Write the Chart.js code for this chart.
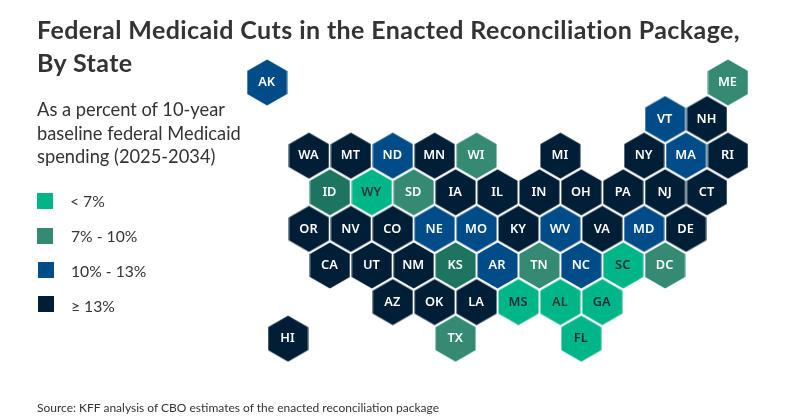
<!DOCTYPE html>
<html>
<head>
<meta charset="utf-8">
<title>Federal Medicaid Cuts by State</title>
<script src="https://cdn.jsdelivr.net/npm/chart.js@4"></script>
<style>
    html, body { margin: 0; padding: 0; background: #fff; }
    #wrap { position: relative; width: 800px; height: 419px; overflow: hidden; color: #333; font-family: Lato, sans-serif; }
    #wrap canvas { position: absolute; left: 0; top: 0; }
    #title { position: absolute; left: 37px; top: 13px; font-size: 25px; line-height: 33px; font-weight: 700; letter-spacing: 0.4px; white-space: nowrap; }
    #subtitle { position: absolute; left: 37px; top: 98px; font-size: 18.3px; line-height: 23.5px; white-space: nowrap; }
    #source { position: absolute; left: 37px; top: 400px; font-size: 12px; line-height: 16px; white-space: nowrap; }
    .key { position: absolute; width: 16px; height: 16px; }
    .keyText { position: absolute; font-size: 15.7px; line-height: 20px; white-space: nowrap; }
</style>
</head>
<body>
<div id="wrap">
    <canvas id="hexChart" width="800" height="419"></canvas>
    <div id="title">Federal Medicaid Cuts in the Enacted Reconciliation Package,<br>By State</div>
    <div id="subtitle">As a percent of 10-year<br>baseline federal Medicaid<br>spending (2025-2034)</div>
    <div id="legend"></div>
    <div id="source">Source: KFF analysis of CBO estimates of the enacted reconciliation package</div>
</div>
<script>
// states, grid position (half columns / rows) and the bucket each one falls in
var states = ['AK','ME','VT','NH','WA','MT','ND','MN','WI','MI','NY','MA','RI','ID','WY','SD','IA','IL','IN','OH','PA','NJ','CT','OR','NV','CO','NE','MO','KY','WV','VA','MD','DE','CA','UT','NM','KS','AR','TN','NC','SC','DC','AZ','OK','LA','MS','AL','GA','HI','TX','FL'];
var gridCols = [-2,20,17,19,0,2,4,6,8,12,16,18,20,1,3,5,7,9,11,13,15,17,19,0,2,4,6,8,10,12,14,16,18,1,3,5,7,9,11,13,15,17,4,6,8,10,12,14,-1,7,13];
var gridRows = [0,0,1,1,2,2,2,2,2,2,2,2,2,3,3,3,3,3,3,3,3,3,3,4,4,4,4,4,4,4,4,4,4,5,5,5,5,5,5,5,5,5,6,6,6,6,6,6,7,7,7];
var buckets = [2,1,2,3,3,3,2,3,1,3,3,2,3,4,0,1,3,3,3,3,3,3,3,3,3,3,2,2,3,2,3,2,3,3,3,3,4,2,1,2,0,1,3,3,3,0,0,0,3,1,0];

// 0 < 7%, 1 7-10%, 2 10-13%, 3 >= 13%, 4 is the darker green used on ID and KS
var bucketColors = ['#00b688', '#358a74', '#004c89', '#001e36', '#1d7560'];
var legendLabels = ['< 7%', '7% - 10%', '10% - 13%', '≥ 13%'];
var legendTop = [193, 227.5, 262, 296];
var legendLeft = [37, 37, 38, 38];
var legendTextTop = [190.5, 225.5, 260.5, 295.5];

var darkLabels = ['MS', 'GA', 'SC', 'FL'];
var greyLabels = ['WY', 'AL'];

function makeHex(color) {
    var w = 41, h = 47;
    var c = document.createElement('canvas');
    c.width = w;
    c.height = h;
    var g = c.getContext('2d');
    var cx = w / 2, cy = h / 2, r = 23.1;
    g.beginPath();
    for (var i = 0; i < 6; i++) {
        var a = Math.PI / 3 * i - Math.PI / 2;
        var px = cx + r * Math.cos(a);
        var py = cy + r * Math.sin(a);
        if (i === 0) g.moveTo(px, py); else g.lineTo(px, py);
    }
    g.closePath();
    g.fillStyle = color;
    g.fill();
    return c;
}

var hexes = bucketColors.map(makeHex);

// legend is plain html so it sits in the left column
var legendEl = document.getElementById('legend');
legendLabels.forEach(function (label, i) {
    var box = document.createElement('div');
    box.className = 'key';
    box.style.left = legendLeft[i] + 'px';
    box.style.top = legendTop[i] + 'px';
    box.style.background = bucketColors[i];
    legendEl.appendChild(box);
    var txt = document.createElement('div');
    txt.className = 'keyText';
    txt.style.left = (i === 0 ? 70 : 71) + 'px';
    txt.style.top = legendTextTop[i] + 'px';
    txt.textContent = label;
    legendEl.appendChild(txt);
});

var hexLabels = {
    id: 'hexLabels',
    afterDatasetsDraw: function (chart) {
        var ctx = chart.ctx;
        var xs = chart.scales.x, ys = chart.scales.y;
        ctx.save();
        ctx.font = '600 12.8px "Noto Sans"';
        ctx.textAlign = 'center';
        ctx.textBaseline = 'middle';
        states.forEach(function (st, i) {
            ctx.fillStyle = darkLabels.indexOf(st) >= 0 ? '#0a2a40' : (greyLabels.indexOf(st) >= 0 ? '#333333' : '#ffffff');
            ctx.fillText(st, xs.getPixelForValue(gridCols[i]) - 0.5, ys.getPixelForValue(gridRows[i]));
        });
        ctx.restore();
    }
};

new Chart(document.getElementById('hexChart').getContext('2d'), {
    type: 'scatter',
    data: {
        datasets: [{
            data: states.map(function (st, i) { return { x: gridCols[i], y: gridRows[i] }; }),
            pointStyle: buckets.map(function (b) { return hexes[b]; }),
            pointRadius: 20
        }]
    },
    options: {
        responsive: false,
        animation: false,
        layout: { padding: 0, autoPadding: false },
        plugins: {
            legend: { display: false },
            tooltip: { enabled: false }
        },
        scales: {
            x: { display: false, min: -14.75, max: 23.44 },
            y: { display: false, reverse: true, min: -2.254, max: 9.195 }
        }
    },
    plugins: [hexLabels]
});
</script>
</body>
</html>
